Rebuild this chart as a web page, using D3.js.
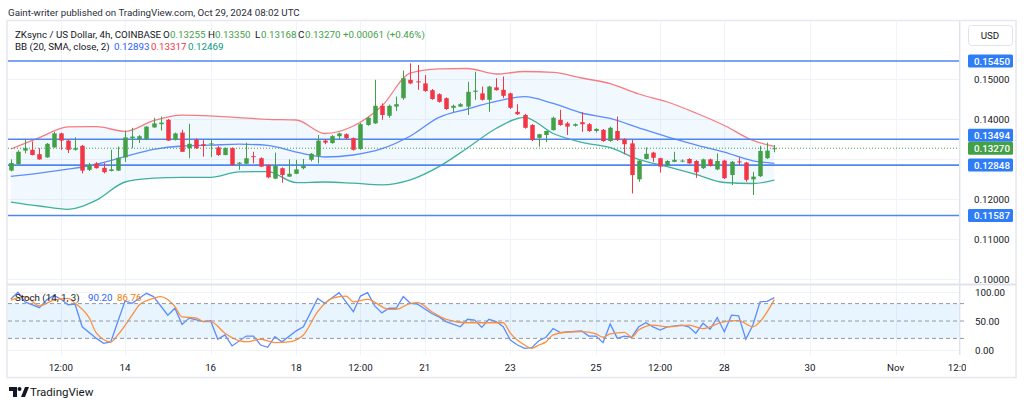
<!DOCTYPE html>
<html>
<head>
<meta charset="utf-8">
<script src="https://cdn.jsdelivr.net/npm/d3@7"></script>
<style>
  body { margin: 0; background: #fff; }
  text { font-family: Roboto, "Noto Sans", sans-serif; }
</style>
</head>
<body>
<script>
// DATA (ZKsync / USD, 4h, COINBASE)
var firstBar = new Date(Date.UTC(2024, 9, 11, 8));
var lastBar = new Date(Date.UTC(2024, 9, 29, 4));

var open = [.1271,.1287,.1321,.1323,.1312,.1304,.1329,.1364,.1346,.1323,
  .1333,.1273,.1289,.1278,.1270,.1271,.1304,.1352,.1350,.1350,
  .1379,.1387,.1398,.1348,.1366,.1327,.1348,.1337,.1338,.1329,
  .1310,.1327,.1288,.1288,.1307,.1302,.1285,.1251,.1277,.1256,
  .1263,.1277,.1298,.1308,.1346,.1340,.1357,.1362,.1352,.1325,
  .1385,.1389,.1433,.1408,.1431,.1452,.1498,.1494,.1489,.1472,
  .1462,.1452,.1428,.1431,.1431,.1468,.1464,.1448,.1479,.1473,
  .1464,.1418,.1410,.1385,.1353,.1360,.1372,.1398,.1389,.1383,
  .1392,.1387,.1370,.1373,.1345,.1370,.1350,.1339,.1249,.1300,
  .1316,.1302,.1285,.1293,.1295,.1300,.1295,.1277,.1299,.1274,
  .1296,.1260,.1294,.1291,.1249,.1257,.1302,.13255];
var high = [.1299,.1322,.1349,.1344,.1327,.1340,.1368,.1366,.1348,.1354,
  .1335,.1290,.1292,.1290,.1323,.1331,.1371,.1378,.1360,.1382,
  .1403,.1406,.1400,.1366,.1373,.1388,.1352,.1347,.1350,.1332,
  .1329,.1329,.1292,.1341,.1318,.1304,.1286,.1316,.1279,.1299,
  .1298,.1300,.1315,.1360,.1349,.1360,.1366,.1364,.1354,.1390,
  .1406,.1498,.1439,.1436,.1456,.1521,.1539,.1535,.1510,.1475,
  .1464,.1454,.1436,.1440,.1493,.1518,.1481,.1483,.1502,.1506,
  .1466,.1437,.1413,.1387,.1363,.1371,.1406,.1423,.1393,.1389,
  .1417,.1390,.1377,.1375,.1381,.1406,.1352,.1348,.1297,.1329,
  .1318,.1303,.1297,.1318,.1299,.1302,.1297,.1301,.1301,.1314,
  .1298,.1295,.1304,.1293,.1268,.1333,.1341,.1335];
var low = [.1269,.1286,.1314,.1309,.1298,.1303,.1328,.1323,.1315,.1321,
  .1264,.1270,.1276,.1264,.1269,.1270,.1293,.1327,.1340,.1347,
  .1378,.1371,.1345,.1346,.1318,.1302,.1325,.1306,.1305,.1308,
  .1309,.1283,.1273,.1287,.1289,.1280,.1252,.1250,.1241,.1255,
  .1262,.1274,.1294,.1289,.1337,.1338,.1350,.1349,.1321,.1323,
  .1383,.1388,.1398,.1403,.1420,.1448,.1487,.1473,.1468,.1448,
  .1441,.1423,.1417,.1430,.1410,.1448,.1446,.1418,.1471,.1452,
  .1425,.1410,.1376,.1345,.1331,.1342,.1371,.1383,.1360,.1381,
  .1368,.1368,.1366,.1343,.1343,.1345,.1312,.1214,.1243,.1299,
  .1293,.1266,.1283,.1292,.1292,.1288,.1253,.1275,.1281,.1272,
  .1250,.1235,.1285,.1243,.1210,.1255,.1300,.13168];
var close = [.1290,.1318,.1327,.1310,.1299,.1338,.1364,.1346,.1323,.1327,
  .1271,.1285,.1277,.1267,.1274,.1303,.1354,.1356,.1357,.1381,
  .1389,.1391,.1346,.1364,.1318,.1338,.1327,.1333,.1339,.1310,
  .1327,.1285,.1291,.1302,.1305,.1281,.1254,.1283,.1260,.1263,
  .1274,.1283,.1313,.1346,.1341,.1357,.1364,.1352,.1323,.1387,
  .1403,.1433,.1410,.1433,.1437,.1502,.1489,.1492,.1470,.1450,
  .1443,.1425,.1433,.1437,.1468,.1471,.1448,.1481,.1472,.1458,
  .1428,.1412,.1378,.1348,.1362,.1370,.1403,.1385,.1381,.1387,
  .1387,.1370,.1375,.1345,.1378,.1348,.1337,.1260,.1296,.1313,
  .1303,.1281,.1295,.1298,.1296,.1289,.1267,.1299,.1283,.1295,
  .1252,.1293,.1292,.1248,.1256,.1320,.1321,.1327];

// Bollinger Bands (20, SMA, close, 2), read every 4 bars
var bbIdx = [0,4,8,12,16,20,24,28,32,36,40,44,48,52,56,60,64,68,72,76,80,84,88,92,96,100,104,107];
var bbUpper = [.1325,.13535,.13805,.1381,.1369,.1396,.14098,.1408,.14033,.1399,.13975,.13638,.13825,.14325,
  .1515,.15255,.15263,.15125,.15188,.15168,.15025,.14883,.14625,.14425,.1415,.13838,.13463,.13317];
var bbBasis = [.12565,.12648,.12745,.12868,.1306,.1324,.13325,.13345,.1337,.1334,.1317,.1305,.131,.13258,
  .13575,.1404,.1425,.14438,.14558,.14388,.1415,.14013,.1378,.13555,.13355,.1317,.12955,.12893];
var bbLower = [.11925,.11825,.11743,.1197,.12425,.1252,.12543,.12543,.1268,.12683,.12408,.12425,.12395,.12355,
  .1248,.1281,.13275,.13763,.14043,.13638,.13418,.13285,.12988,.12808,.12615,.12413,.12388,.12469];

// Stoch (14, 1, 3)
var kIdx = [0,1,2,4,5,6,7,8,9,10,12,13,14,15,16,17,19,20,22,23,24,25,27,28,29,30,31,33,34,35,36,37,38,40,41,43,44,46,
  48,49,50,51,52,53,54,55,56,57,59,60,61,63,64,65,66,67,68,69,70,71,72,73,74,75,76,77,78,80,81,82,83,84,85,86,87,88,
  89,90,91,92,94,95,96,97,98,99,100,101,102,103,104,105,106,107];
var stochK = [88,99.5,83,73,86,94,88,78,79,40,20,11.5,14,49,84.5,80.5,97.7,92,60,72,44,55,49,50.5,18.5,26,7,24,24,8.6,4.6,23,14,33,40,89,80.5,98.8,
  66,93,98.8,76,64,72,72,92,80.5,79,63,57,49,40,53,51.7,39,53,49,40,17,8.6,2.9,4,16,22,37,30,31,33,24,24,12.6,45,20,24,22,40,
  47,40,34.5,40,43,40,29,46,35.6,56,31.6,60,59,18.5,43,83,84,90.2];
var dIdx = [0,2,4,6,8,9,11,12,14,15,17,18,20,21,23,24,26,27,28,30,32,33,35,37,39,41,43,45,47,48,50,53,54,56,57,59,61,
  64,67,69,70,72,73,74,75,76,78,80,82,83,84,86,87,88,90,92,95,97,99,100,102,104,105,107];
var stochD = [86,92,76,86,89,80.5,55,29,14,26,60,77.6,89,92,74.7,57,55,49,49,29,16,14,18.5,12.6,14,26,66,89,93,83,87.4,70,70,80.5,81.6,66,53,
  47,47,47,29,8.6,2.9,8.6,14,26,31,31.6,27.6,22,27.6,30.5,22.4,34.5,43,40,43,37,45,49,50.5,40,49,86.76];

var priceTicks = [0.15, 0.14, 0.12, 0.11, 0.10];
var gridPrices = [0.15, 0.14, 0.13, 0.12, 0.11, 0.10];
var levels = [0.15450, 0.13494, 0.12848, 0.11587];
var lastPrice = 0.13270;
var stochTicks = [100, 50, 0];
var timeTicks = [
  [new Date(Date.UTC(2024, 9, 12, 12)), "12:00"],
  [new Date(Date.UTC(2024, 9, 14)), "14"],
  [new Date(Date.UTC(2024, 9, 16)), "16"],
  [new Date(Date.UTC(2024, 9, 18)), "18"],
  [new Date(Date.UTC(2024, 9, 19, 12)), "12:00"],
  [new Date(Date.UTC(2024, 9, 21)), "21"],
  [new Date(Date.UTC(2024, 9, 23)), "23"],
  [new Date(Date.UTC(2024, 9, 25)), "25"],
  [new Date(Date.UTC(2024, 9, 26, 12)), "12:00"],
  [new Date(Date.UTC(2024, 9, 28)), "28"],
  [new Date(Date.UTC(2024, 9, 30)), "30"],
  [new Date(Date.UTC(2024, 10, 1)), "Nov"],
  [new Date(Date.UTC(2024, 10, 2, 12)), "12:00"]
];

var width = 1024, height = 406;
var left = 8, right = 959;
var mainTop = 21, mainBottom = 284;
var stTop = 285, stBottom = 355;
var fs = "9.75px";

var dates = d3.utcHour.every(4).range(firstBar, new Date(+lastBar + 1));

var x = d3.scaleUtc()
  .domain([new Date(Date.UTC(2024, 9, 14)), new Date(Date.UTC(2024, 9, 30))])
  .range([125, 810]);
var y = d3.scaleLinear().domain([0.10, 0.15]).range([279, 79]);
var ys = d3.scaleLinear().domain([0, 100]).range([350, 292]);

var up = "#43a047", down = "#f23645";

var svg = d3.select("body").append("svg")
  .attr("width", width)
  .attr("height", height);

svg.append("rect").attr("width", width).attr("height", height).attr("fill", "#fff");

var defs = svg.append("defs");
defs.append("clipPath").attr("id", "clipMain").append("rect")
  .attr("x", left).attr("y", mainTop).attr("width", right - left).attr("height", mainBottom - mainTop);
defs.append("clipPath").attr("id", "clipSt").append("rect")
  .attr("x", left).attr("y", stTop).attr("width", right - left).attr("height", stBottom - stTop);
defs.append("clipPath").attr("id", "clipTime").append("rect")
  .attr("x", left).attr("y", stBottom).attr("width", 966 - left).attr("height", 22);

// header
svg.append("text")
  .attr("x", 8).attr("y", 15.5)
  .attr("font-size", "9.75px").attr("fill", "#2a2e39")
  .text("Gaint-writer published on TradingView.com, Oct 29, 2024 08:02 UTC");

// frame
svg.append("rect")
  .attr("x", 7).attr("y", 20.5).attr("width", 1009).attr("height", 357)
  .attr("fill", "none").attr("stroke", "#e6e8ee").attr("stroke-width", 1.5);

// grid
var grid = svg.append("g").attr("stroke", "#f0f3fa").attr("stroke-width", 1);
grid.selectAll(".vg").data(timeTicks).enter().append("line")
  .attr("x1", function(d) { return Math.round(x(d[0])) + 0.5; })
  .attr("x2", function(d) { return Math.round(x(d[0])) + 0.5; })
  .attr("y1", mainTop).attr("y2", stBottom);
grid.selectAll(".hg").data(gridPrices).enter().append("line")
  .attr("x1", left).attr("x2", right)
  .attr("y1", function(d) { return Math.round(y(d)) + 0.5; })
  .attr("y2", function(d) { return Math.round(y(d)) + 0.5; });
grid.selectAll(".sg").data([100, 0]).enter().append("line")
  .attr("x1", left).attr("x2", right)
  .attr("y1", function(d) { return Math.round(ys(d)) + 0.5; })
  .attr("y2", function(d) { return Math.round(ys(d)) + 0.5; });

// separators
svg.append("line").attr("x1", 7).attr("x2", 1016).attr("y1", 284.5).attr("y2", 284.5)
  .attr("stroke", "#e0e3eb").attr("stroke-width", 2);
svg.append("line").attr("x1", right + 0.5).attr("x2", right + 0.5).attr("y1", mainTop).attr("y2", stBottom)
  .attr("stroke", "#e0e3eb");

// MAIN PANE
var main = svg.append("g").attr("clip-path", "url(#clipMain)");

var bb = bbIdx.map(function(i, k) {
  return { d: dates[i], u: bbUpper[k], m: bbBasis[k], l: bbLower[k] };
});
main.append("path").datum(bb)
  .attr("fill", "#2196f3").attr("fill-opacity", 0.06)
  .attr("d", d3.area().curve(d3.curveMonotoneX)
    .x(function(d) { return x(d.d); })
    .y0(function(d) { return y(d.l); })
    .y1(function(d) { return y(d.u); }));
[["u", "#f77c80"], ["m", "#5b8cff"], ["l", "#3fb09d"]].forEach(function(s) {
  main.append("path").datum(bb)
    .attr("fill", "none").attr("stroke", s[1]).attr("stroke-width", 1.3)
    .attr("d", d3.line().curve(d3.curveMonotoneX)
      .x(function(d) { return x(d.d); })
      .y(function(d) { return y(d[s[0]]); }));
});

// key levels
main.selectAll(".lvl").data(levels).enter().append("line")
  .attr("x1", left).attr("x2", right)
  .attr("y1", function(d) { return y(d); }).attr("y2", function(d) { return y(d); })
  .attr("stroke", "#4f86f2").attr("stroke-width", 1.6);

// last price
main.append("line")
  .attr("x1", left).attr("x2", right)
  .attr("y1", y(lastPrice)).attr("y2", y(lastPrice))
  .attr("stroke", "#43a047").attr("stroke-width", 1).attr("stroke-dasharray", "1,2");

// candles
var bars = dates.map(function(d, i) {
  return { d: d, o: open[i], h: high[i], l: low[i], c: close[i] };
});
var cg = main.selectAll(".candle").data(bars).enter().append("g");
cg.append("line")
  .attr("x1", function(d) { return Math.round(x(d.d)) + 0.5; })
  .attr("x2", function(d) { return Math.round(x(d.d)) + 0.5; })
  .attr("y1", function(d) { return y(d.h); })
  .attr("y2", function(d) { return y(d.l); })
  .attr("stroke", function(d) { return d.c >= d.o ? up : down; });
cg.append("rect")
  .attr("x", function(d) { return Math.round(x(d.d)) - 1.75; })
  .attr("width", 4.5)
  .attr("y", function(d) { return y(Math.max(d.o, d.c)); })
  .attr("height", function(d) { return Math.max(1, Math.abs(y(d.o) - y(d.c))); })
  .attr("fill", function(d) { return d.c >= d.o ? up : down; });

// legend
function lab(xp, yp, str, col) {
  svg.append("text").attr("x", xp).attr("y", yp)
    .attr("font-size", fs).attr("fill", col || "#131722").text(str);
}
lab(15, 37.5, "ZKsync / US Dollar, 4h, COINBASE");
lab(163, 37.5, "O"); lab(170, 37.5, "0.13255", up);
lab(208, 37.5, "H"); lab(215, 37.5, "0.13350", up);
lab(255, 37.5, "L"); lab(261, 37.5, "0.13168", up);
lab(298, 37.5, "C"); lab(305, 37.5, "0.13270", up);
lab(343, 37.5, "+0.00061 (+0.46%)", up);
lab(15, 49.5, "BB (20, SMA, close, 2)");
lab(114, 49.5, "0.12893", "#2962ff");
lab(151, 49.5, "0.13317", "#f23645");
lab(188, 49.5, "0.12469", "#089981");

// price axis
svg.append("rect").attr("x", 968.5).attr("y", 25.5).attr("width", 44).attr("height", 20).attr("rx", 3)
  .attr("fill", "#fff").attr("stroke", "#e0e3eb");
svg.append("text").attr("x", 990).attr("y", 39).attr("text-anchor", "middle")
  .attr("font-size", fs).attr("fill", "#131722").text("USD");

svg.selectAll(".pt").data(priceTicks).enter().append("text")
  .attr("x", 974).attr("y", function(d) { return y(d) + 3.5; })
  .attr("font-size", fs).attr("fill", "#131722")
  .text(function(d) { return d3.format(".5f")(d); });

// axis tags (TradingView nudges the 0.13494 tag up so it clears the last-price tag)
var tags = [[0.15450, 0, "#2f7df6"], [0.13494, -4, "#2f7df6"], [0.12848, 0, "#2f7df6"],
  [0.11587, 0, "#2f7df6"], [lastPrice, 0, "#43a047"]];
var tg = svg.selectAll(".tag").data(tags).enter().append("g");
tg.append("rect")
  .attr("x", 968).attr("width", 45).attr("height", 13)
  .attr("y", function(d) { return y(d[0]) + d[1] - 6.5; })
  .attr("rx", 1.5)
  .attr("fill", function(d) { return d[2]; });
tg.append("text")
  .attr("x", 974).attr("y", function(d) { return y(d[0]) + d[1] + 3.5; })
  .attr("font-size", fs).attr("font-weight", 500).attr("fill", "#fff")
  .text(function(d) { return d3.format(".5f")(d[0]); });

// STOCH PANE
var st = svg.append("g").attr("clip-path", "url(#clipSt)");
st.append("rect")
  .attr("x", left).attr("width", 967 - left)
  .attr("y", ys(80)).attr("height", ys(20) - ys(80))
  .attr("fill", "#2196f3").attr("fill-opacity", 0.1);
svg.selectAll(".sd").data([80, 50, 20]).enter().append("line")
  .attr("x1", left).attr("x2", 967)
  .attr("y1", function(d) { return ys(d); }).attr("y2", function(d) { return ys(d); })
  .attr("stroke", "#9598a1").attr("stroke-dasharray", "4,3");
st.append("path")
  .datum(kIdx.map(function(i, k) { return [dates[i], stochK[k]]; }))
  .attr("fill", "none").attr("stroke", "#5b8cff").attr("stroke-width", 1.3)
  .attr("d", d3.line().x(function(d) { return x(d[0]); }).y(function(d) { return ys(d[1]); }));
st.append("path")
  .datum(dIdx.map(function(i, k) { return [dates[i], stochD[k]]; }))
  .attr("fill", "none").attr("stroke", "#ff8f3a").attr("stroke-width", 1.3)
  .attr("d", d3.line().curve(d3.curveMonotoneX).x(function(d) { return x(d[0]); }).y(function(d) { return ys(d[1]); }));

lab(15, 301, "Stoch (14, 1, 3)");
lab(88, 301, "90.20", "#2962ff");
lab(117, 301, "86.76", "#f57c00");

svg.selectAll(".stt").data(stochTicks).enter().append("text")
  .attr("x", 975).attr("y", function(d) { return ys(d) + 3.5; })
  .attr("font-size", fs).attr("fill", "#131722")
  .text(function(d) { return d3.format(".2f")(d); });

// time axis
svg.append("g").attr("clip-path", "url(#clipTime)")
  .selectAll(".tt").data(timeTicks).enter().append("text")
  .attr("x", function(d) { return x(d[0]); }).attr("y", 370.5)
  .attr("text-anchor", "middle").attr("font-size", fs).attr("fill", "#131722")
  .text(function(d) { return d[1]; });

// footer logo
var logo = svg.append("g").attr("fill", "#131722");
logo.append("path").attr("d", "M9 387h8v10h-4v-6h-4z");
logo.append("circle").attr("cx", 19.5).attr("cy", 389).attr("r", 2);
logo.append("path").attr("d", "M21 397l4-10h4l-4 10z");
svg.append("text").attr("x", 30).attr("y", 396)
  .attr("font-size", "11.5px").attr("fill", "#131722").text("TradingView");
</script>
</body>
</html>
